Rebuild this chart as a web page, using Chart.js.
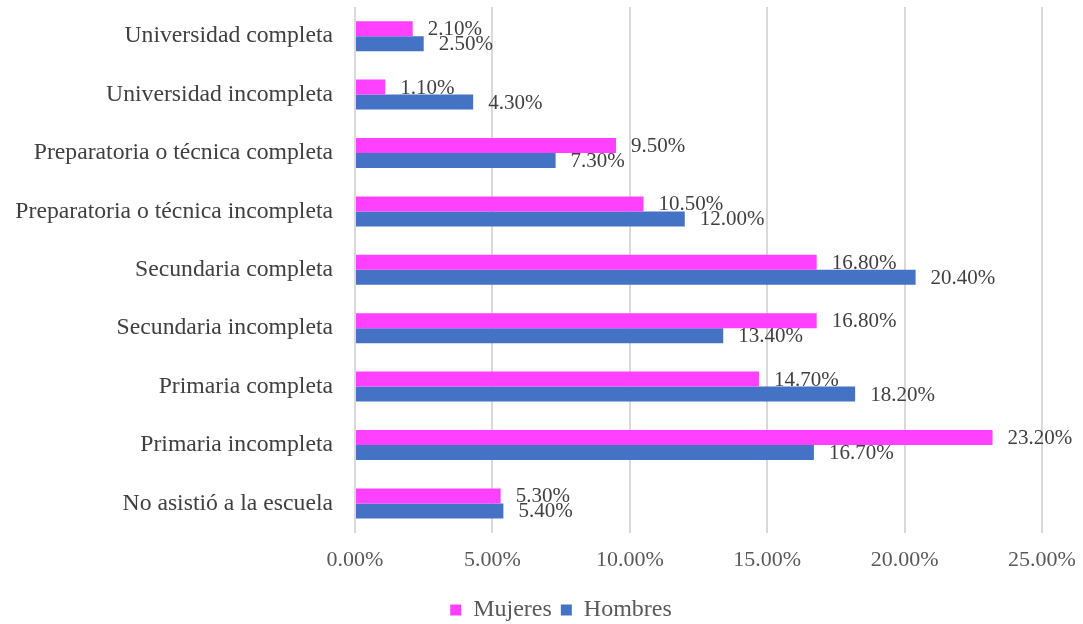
<!DOCTYPE html>
<html>
<head>
<meta charset="utf-8">
<script src="https://cdn.jsdelivr.net/npm/chart.js@4"></script>
<style>
  html, body { margin: 0; padding: 0; background: #fff; }
  #wrap { width: 1083px; height: 624px; }
</style>
</head>
<body>
<div id="wrap"><canvas id="escolaridad-chart"></canvas></div>
<script>
const categorias = [
  'Universidad completa',
  'Universidad incompleta',
  'Preparatoria o técnica completa',
  'Preparatoria o técnica incompleta',
  'Secundaria completa',
  'Secundaria incompleta',
  'Primaria completa',
  'Primaria incompleta',
  'No asistió a la escuela'
];
const mujeres = [2.1, 1.1, 9.5, 10.5, 16.8, 16.8, 14.7, 23.2, 5.3];
const hombres = [2.5, 4.3, 7.3, 12.0, 20.4, 13.4, 18.2, 16.7, 5.4];
const ticksX = [0, 5, 10, 15, 20, 25];

const FONT = '"Liberation Serif", "Times New Roman", serif';

// etiquetas de valor al final de cada barra
const etiquetas = {
  id: 'etiquetas',
  afterDatasetsDraw(chart) {
    const ctx = chart.ctx;
    ctx.save();
    ctx.font = '21px ' + FONT;
    ctx.fillStyle = '#404040';
    ctx.textAlign = 'left';
    ctx.textBaseline = 'middle';
    chart.data.datasets.forEach((ds, i) => {
      chart.getDatasetMeta(i).data.forEach((bar, j) => {
        ctx.fillText(ds.data[j].toFixed(2) + '%', bar.x + 15, bar.y + 1);
      });
    });
    ctx.restore();
  }
};

// la leyenda va un poco a la derecha, como en el original
const moverLeyenda = {
  id: 'moverLeyenda',
  afterLayout(chart) {
    if (chart.legend) {
      chart.legend.left += 40;
      chart.legend.right += 40;
      chart.legend.top += 2;
      chart.legend.bottom += 2;
    }
  }
};

function initEscolaridadChart() {
  const ctx = document.getElementById('escolaridad-chart');
  if (!ctx) return;
  new Chart(ctx, {
    type: 'bar',
    data: {
      labels: categorias,
      datasets: [
        { label: 'Mujeres', data: mujeres, backgroundColor: '#FF40FF' },
        { label: 'Hombres', data: hombres, backgroundColor: '#4472C4' }
      ]
    },
    options: {
      indexAxis: 'y',
      responsive: true,
      maintainAspectRatio: false,
      animation: false,
      categoryPercentage: 0.514,
      barPercentage: 1,
      layout: { padding: { top: 7, right: 41, left: 0, bottom: -6 } },
      scales: {
        x: {
          min: 0,
          max: 25,
          afterBuildTicks(scale) { scale.ticks = ticksX.map(v => ({ value: v })); },
          afterFit(scale) { scale.paddingLeft = 0; scale.paddingRight = 0; },
          grid: { color: '#D9D9D9', lineWidth: 2, drawTicks: false },
          border: { display: false },
          ticks: {
            padding: 14,
            color: '#595959',
            font: { family: FONT, size: 22 },
            callback: v => v.toFixed(2) + '%'
          }
        },
        y: {
          grid: { display: false },
          border: { display: false },
          afterFit(scale) {
            scale.width = 355;
            scale.paddingTop = 0;
            scale.paddingBottom = 0;
          },
          ticks: {
            padding: 14,
            color: '#404040',
            font: { family: FONT, size: 23.7 }
          }
        }
      },
      plugins: {
        legend: {
          position: 'bottom',
          labels: {
            boxWidth: 11,
            boxHeight: 11,
            padding: 9,
            color: '#595959',
            font: { family: FONT, size: 24 }
          }
        },
        tooltip: { enabled: false }
      }
    },
    plugins: [etiquetas, moverLeyenda]
  });
}

initEscolaridadChart();
</script>
</body>
</html>
